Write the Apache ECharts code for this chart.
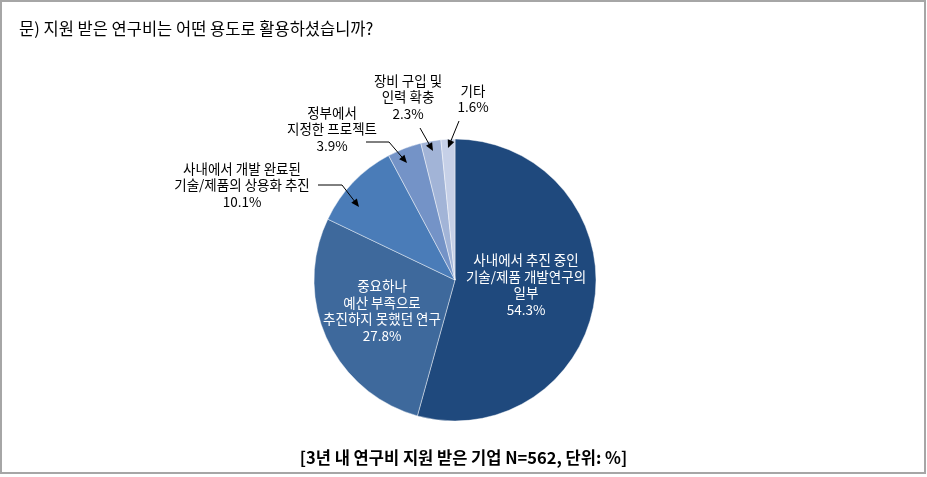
<!DOCTYPE html>
<html>
<head>
<meta charset="utf-8">
<script src="https://cdn.jsdelivr.net/npm/echarts@6/dist/echarts.min.js"></script>
<style>
html,body{margin:0;padding:0;background:#fff;}
#c{width:927px;height:477px;}
</style>
</head>
<body>
<div id="c"></div>
<script>
const categories = [
  '사내에서 추진 중인\n기술/제품 개발연구의\n일부',
  '중요하나\n예산 부족으로\n추진하지 못했던 연구',
  '사내에서 개발 완료된\n기술/제품의 상용화 추진',
  '정부에서\n지정한 프로젝트',
  '장비 구입 및\n인력 확충',
  '기타'
];
const values = [54.3, 27.8, 10.1, 3.9, 2.3, 1.6];
const colors = ['#1F497D', '#3E699C', '#4A7CB8', '#7493C7', '#A2B4D7', '#C6D0E7'];
const titleText = '문) 지원 받은 연구비는 어떤 용도로 활용하셨습니까?';
const footerText = '[3년 내 연구비 지원 받은 기업 N=562, 단위: %]';

const FONT = '"Noto Sans CJK KR", "Noto Sans", sans-serif';
const CX = 455, CY = 280, R = 141;

// label placement (center of label block), leader elbows and arrow tips
const labelPlace = [
  { x: 526, y: 285 },
  { x: 382, y: 311 },
  { x: 242, y: 185, pts: [[318, 185], [342, 185]], tip: [359, 207] },
  { x: 332, y: 129, pts: [[366, 142], [389, 142]], tip: [407, 163] },
  { x: 408, y: 97,  pts: [[420, 128]], tip: [433, 151] },
  { x: 473, y: 99,  pts: [[459, 121]], tip: [448, 148] }
];

const data = categories.map((c, i) => ({
  name: c,
  value: values[i],
  itemStyle: { color: colors[i] },
  label: i < 2
    ? { position: 'inside', color: '#fff' }
    : { position: 'outside', color: '#000' }
}));

// leader lines with arrowheads
const leaders = [];
labelPlace.forEach(p => {
  if (!p.tip) return;
  const T = p.tip;
  const F = p.pts[p.pts.length - 1];
  let ux = T[0] - F[0], uy = T[1] - F[1];
  const L = Math.hypot(ux, uy); ux /= L; uy /= L;
  const nx = -uy, ny = ux;
  const len = 8, hw = 3.5;
  leaders.push({
    type: 'polyline', z: 100,
    shape: { points: p.pts.concat([[T[0] - 4 * ux, T[1] - 4 * uy]]) },
    style: { stroke: '#000', lineWidth: 1, fill: null }
  });
  leaders.push({
    type: 'polygon', z: 100,
    shape: { points: [
      [T[0], T[1]],
      [T[0] - len * ux + hw * nx, T[1] - len * uy + hw * ny],
      [T[0] - len * ux - hw * nx, T[1] - len * uy - hw * ny]
    ] },
    style: { fill: '#000' }
  });
});

const chart = echarts.init(document.getElementById('c'), null, { renderer: 'canvas' });
chart.setOption({
  backgroundColor: '#fff',
  animation: false,
  title: {
    text: titleText,
    left: 14, top: 15,
    textStyle: { fontFamily: FONT, fontSize: 16.5, fontWeight: 'normal', color: '#000' }
  },
  graphic: [
    { type: 'rect', shape: { x: 1, y: 1, width: 924, height: 472 },
      style: { fill: 'none', stroke: '#A6A6A6', lineWidth: 2 }, z: -1 },
    { type: 'text', left: 'center', top: 449,
      style: { text: footerText, font: 'bold 16.5px ' + FONT, fill: '#000' } }
  ].concat(leaders),
  series: [{
    type: 'pie',
    center: [CX, CY],
    radius: R,
    startAngle: 90,
    clockwise: true,
    avoidLabelOverlap: false,
    data: data,
    itemStyle: { borderColor: 'rgba(255,255,255,0.55)', borderWidth: 0.8 },
    label: {
      formatter: p => p.name + '\n' + p.value.toFixed(1) + '%',
      fontFamily: FONT,
      fontSize: 13.5,
      lineHeight: 16.5,
      align: 'center'
    },
    labelLine: { show: false },
    labelLayout: function (params) {
      const p = labelPlace[params.dataIndex];
      return { x: p.x, y: p.y, align: 'center', verticalAlign: 'middle' };
    }
  }]
});
</script>
</body>
</html>
